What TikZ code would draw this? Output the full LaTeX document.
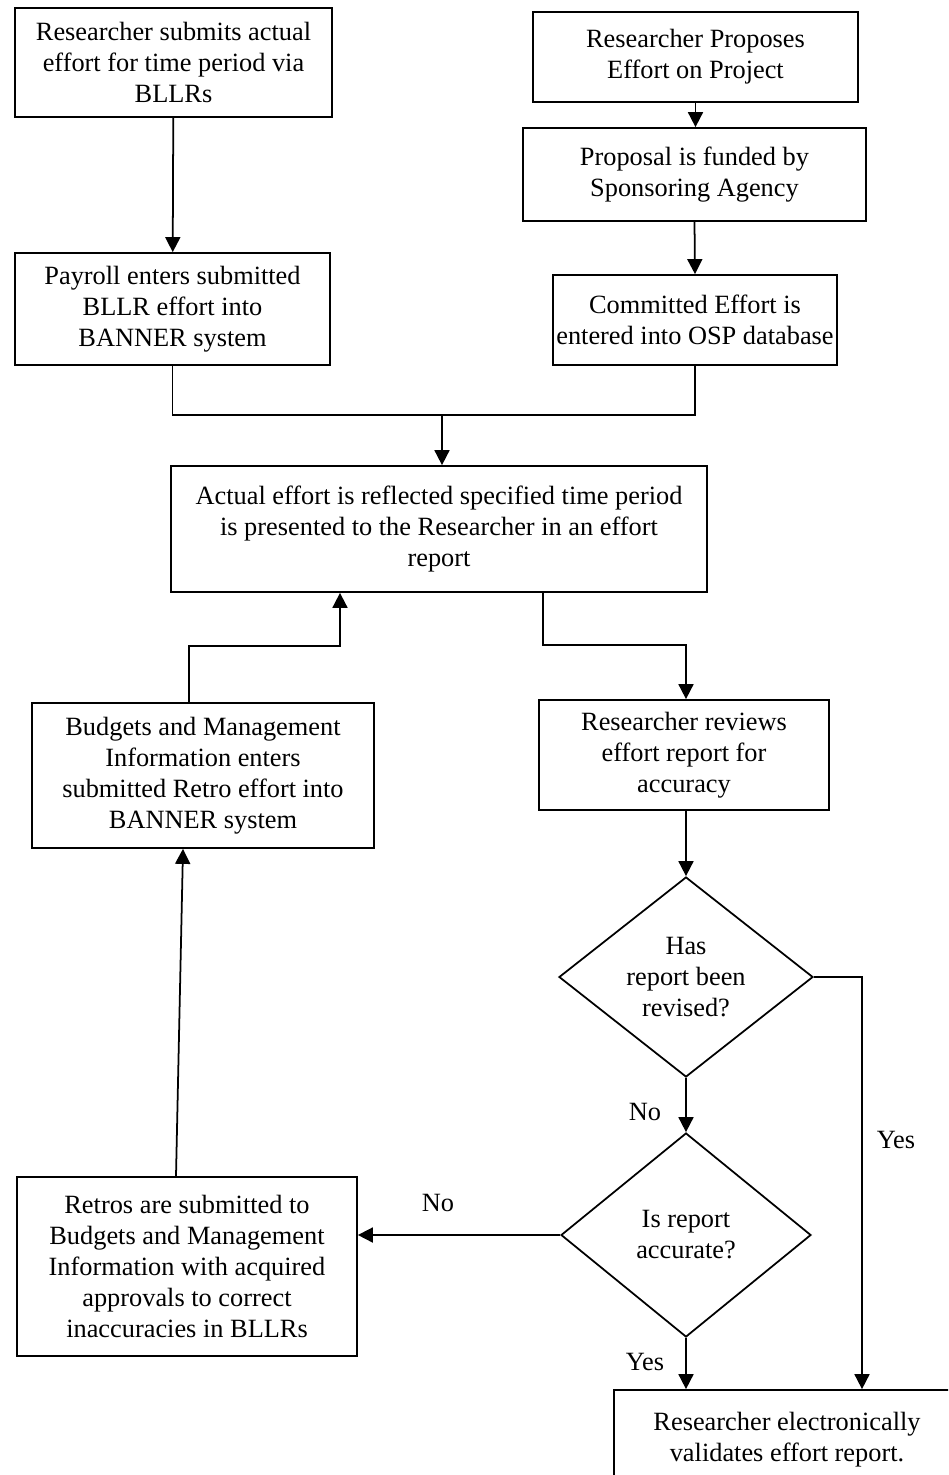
\documentclass[tikz,border=0pt]{standalone}
\usepackage{fontspec}
\setmainfont{Liberation Serif}
\usetikzlibrary{arrows.meta,shapes.geometric}
\tikzset{
  box/.style={draw,line width=1pt,align=center,inner sep=0pt},
  decision/.style={draw,diamond,line width=1pt,align=center,inner sep=0pt},
  flow/.style={line width=1pt,-{Triangle[length=0.3cm,width=0.3cm]}},
  link/.style={line width=1pt}
}
\begin{document}
\begin{tikzpicture}[x=0.02cm,y=-0.02cm,line join=miter,font=\fontsize{15}{17.6}\selectfont]
	\path[use as bounding box] (0,0) rectangle (948,1475);
	\clip (0,0) rectangle (948,1475);
	% boxes
	\node[box,minimum width=317*0.02cm,minimum height=109*0.02cm] (submit) at (173.5,62.5) {Researcher submits actual\\effort for time period via\\BLLRs};
	\node[box,minimum width=325*0.02cm,minimum height=90*0.02cm] (propose) at (695.5,57) {Researcher Proposes\\Effort on Project};
	\node[box,minimum width=343*0.02cm,minimum height=93*0.02cm] (funded) at (694.5,174.5) {Proposal is funded by\\Sponsoring Agency};
	\node[box,minimum width=284*0.02cm,minimum height=90*0.02cm] (committed) at (695,320) {Committed Effort is\\entered into OSP database};
	\node[box,minimum width=315*0.02cm,minimum height=112*0.02cm] (payroll) at (172.5,309) {Payroll enters submitted\\BLLR effort into\\BANNER system};
	\node[box,minimum width=536*0.02cm,minimum height=126*0.02cm] (actual) at (439,529) {Actual effort is reflected specified time period\\is presented to the Researcher in an effort\\report};
	\node[box,minimum width=342*0.02cm,minimum height=145*0.02cm] (budgets) at (203,775.5) {Budgets and Management\\Information enters\\submitted Retro effort into\\BANNER system};
	\node[box,minimum width=290*0.02cm,minimum height=110*0.02cm] (reviews) at (684,755) {Researcher reviews\\effort report for\\accuracy};
	\node[decision,minimum width=254*0.02cm,minimum height=200*0.02cm] (revised) at (686,977) {Has\\report been\\revised?};
	\node[decision,minimum width=250*0.02cm,minimum height=204*0.02cm] (accurate) at (686,1235) {Is report\\accurate?};
	\node[box,minimum width=340*0.02cm,minimum height=179*0.02cm] (retros) at (187,1266.5) {Retros are submitted to\\Budgets and Management\\Information with acquired\\approvals to correct\\inaccuracies in BLLRs};
	\node[box,minimum width=346*0.02cm,minimum height=100*0.02cm] (validates) at (787,1440) {Researcher electronically\\validates effort report.};
	% bends
	\coordinate (join) at (442,415);
	\coordinate (up1) at (189,646);
	\coordinate (up2) at (340,646);
	\coordinate (down1) at (543,645);
	\coordinate (down2) at (686,645);
	\coordinate (yesturn) at (862,977);
	\coordinate (back1) at (176,1000);
	\coordinate (back2) at (183,1000);
	% connectors
	\draw[flow] (submit) -- (payroll);
	\draw[flow] (propose.south) -- (propose.south |- funded.north);
	\draw[flow] (funded.south) -- (committed.north);
	\draw[link] (payroll.south) |- (join);
	\draw[link] (committed.south) |- (join);
	\draw[flow] (join) -- (join |- actual.north);
	\draw[flow] (up1 |- budgets.north) -- (up1) -- (up2) -- (up2 |- actual.south);
	\draw[flow] (down1 |- actual.south) -- (down1) -- (down2) -- (down2 |- reviews.north);
	\draw[flow] (revised.north |- reviews.south) -- (revised.north);
	\draw[flow] (revised.south) -- (accurate.north);
	\draw[flow] (accurate.west) -- (accurate.west -| retros.east);
	\draw[flow] (back1 |- retros.north) -- (back2 |- budgets.south);
	\draw[flow] (accurate.south) -- (accurate.south |- validates.north);
	\draw[flow] (revised.east) -- (yesturn) -- (yesturn |- validates.north);
	% labels
	\node (noa) at (645,1112) {No};
	\node (nob) at (438,1203) {No};
	\node (yesa) at (896,1140) {Yes};
	\node (yesb) at (645,1362) {Yes};
\end{tikzpicture}
\end{document}
